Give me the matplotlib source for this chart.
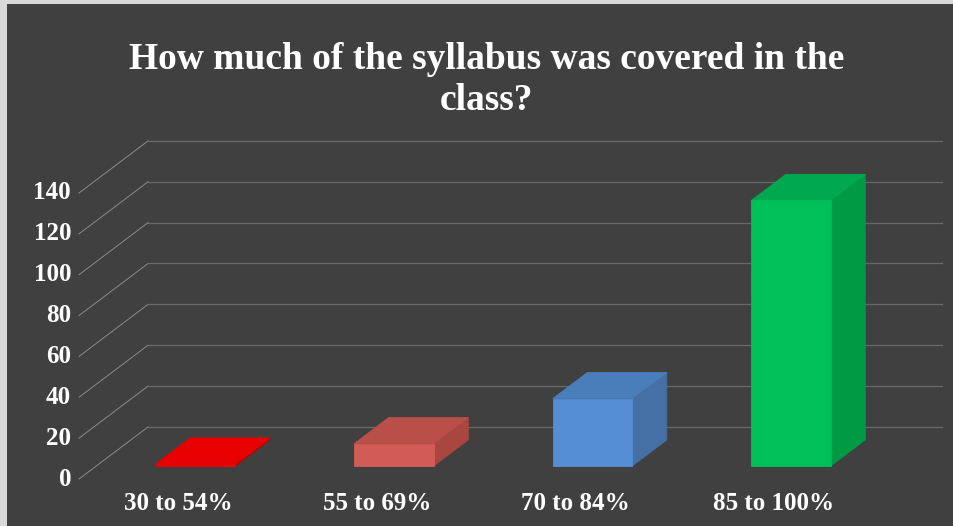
import numpy as np
import matplotlib.pyplot as plt
from matplotlib.patches import Polygon, Rectangle

# survey answers
categories = ['30 to 54%', '55 to 69%', '70 to 84%', '85 to 100%']
counts = [1, 11, 33, 130]
y_ticks = [0, 20, 40, 60, 80, 100, 120, 140]
title = 'How much of the syllabus was covered in the\nclass?'

front_colors = ['#f20000', '#d35b56', '#558ed5', '#00c05a']
top_colors = ['#e80000', '#ba4f4a', '#4a7ebb', '#00a94f']
side_colors = ['#c00000', '#a9463f', '#4470a3', '#009a45']

# oblique 3d: full depth shifts x by DX (category units) and y by DY (value units)
DX = 0.348
DY = 25.5
BAR_W = 0.4
D0, D1 = 0.25, 0.75

bg = '#404040'
grid_col = '#6a6a6a'
txt_font = 'Liberation Serif'


def proj(x, v, d):
    return (x + d * DX, v + d * DY)


fig = plt.figure(figsize=(9.54, 5.26), dpi=100)
fig.patch.set_facecolor('#d9d9d9')
ax = fig.add_axes([0, 0, 1, 1])
ax.set_xlim(-79 / 198.5, (954 - 79) / 198.5)
ax.set_ylim((479 - 526) / 2.043, 479 / 2.043)
ax.axis('off')

# dark chart area
ax.add_patch(Rectangle((0.0, 0.0), 1.0, 1.0, transform=fig.transFigure,
                       facecolor='#d9d9d9', zorder=0))
ax.add_patch(Rectangle((7 / 954, 0.0), 1.0, 1 - 4 / 526, transform=fig.transFigure,
                       facecolor=bg, zorder=0.5))

n = len(categories)

# side wall + back wall gridlines
for t in y_ticks:
    a = proj(0, t, 0)
    b = proj(0, t, 1)
    c = proj(n, t, 1)
    ax.plot([a[0], b[0]], [a[1], b[1]], color='#8a8a8a', lw=0.7, zorder=1)
    ax.plot([b[0], c[0]], [b[1], c[1]], color=grid_col, lw=0.9, zorder=1)
    ax.text(a[0] - 0.04, t, str(t), ha='right', va='center', color='white',
            fontsize=18, fontweight='bold', family=txt_font, zorder=3)

for i, (cat, v) in enumerate(zip(categories, counts)):
    x0 = i + 0.5 - BAR_W / 2
    x1 = i + 0.5 + BAR_W / 2
    side = [proj(x1, 0, D0), proj(x1, 0, D1), proj(x1, v, D1), proj(x1, v, D0)]
    top = [proj(x0, v, D0), proj(x1, v, D0), proj(x1, v, D1), proj(x0, v, D1)]
    front = [proj(x0, 0, D0), proj(x1, 0, D0), proj(x1, v, D0), proj(x0, v, D0)]
    for pts, col in ((side, side_colors[i]), (top, top_colors[i]), (front, front_colors[i])):
        ax.add_patch(Polygon(pts, closed=True, facecolor=col, edgecolor=col,
                             lw=0.6, zorder=2))
    ax.text(i + 0.5, -12, cat, ha='center', va='center', color='white',
            fontsize=18, fontweight='bold', family=txt_font, zorder=3)

fig.text(487 / 954, 1 - 80 / 526, title, ha='center', va='center', color='white',
         fontsize=27, fontweight='bold', family=txt_font, linespacing=1.25)

fig.savefig('out.png', dpi=100, facecolor=fig.get_facecolor())
